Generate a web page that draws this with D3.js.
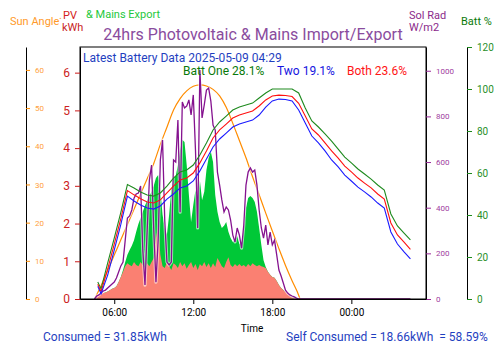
<!DOCTYPE html>
<html>
<head>
<meta charset="utf-8">
<script src="https://cdn.jsdelivr.net/npm/d3@7"></script>
<style>
    body { margin: 0; background: #fff; }
    svg { display: block; font-family: Roboto, sans-serif; }
</style>
</head>
<body>
<div id="chart"></div>
<script>
const WIDTH = 500;
const HEIGHT = 353;
const PLOT = { left: 80, right: 426, top: 47, bottom: 299 };

const DAY = '2025-05-08';
const LAST_READING = '2025-05-09 04:29';
const X_DOMAIN = ['2025-05-08 03:24', '2025-05-09 05:40'];

// 10 minute readings from 04:30 to 20:00
const DENSE_START = '2025-05-08 04:30';
const DENSE_STEP_MIN = 10;

// solar radiation W/m2
const solarRad = [
    0, 13, 18, 26, 35, 39, 48, 57, 66,
    74, 92, 118, 145, 162, 258,
    355, 364, 390, 442, 460, 464,
    495, 215, 61, 302, 521, 587,
    302, 74, 258, 609, 696, 346,
    162, 149, 162, 609, 600, 784,
    380, 863, 837, 845, 872, 806,
    894, 653, 311, 1003, 793, 850,
    915, 924, 867, 762, 740, 556,
    499, 434, 381, 403, 390, 346,
    280, 250, 311, 280, 223, 324,
    499, 556, 574, 556, 565, 499,
    390, 311, 267, 324, 237, 293,
    237, 258, 193, 127, 101, 70,
    39, 26, 18, 13, 9, 4,
    0
];

// PV generation kWh (top of green = total incl. export)
const pvTotal = [
    0, 0.08, 0.12, 0.15, 0.16, 0.17, 0.20, 0.23, 0.27,
    0.29, 0.34, 0.45, 0.58, 0.77, 0.98,
    1.17, 1.30, 1.41, 1.56, 1.78, 1.99,
    2.15, 2.31, 2.47, 2.62, 2.73, 2.84,
    3.00, 3.21, 3.29, 2.89, 2.23, 1.88,
    1.70, 2.23, 2.89, 3.21, 3.26, 3.55,
    3.95, 4.22, 4.16, 3.55, 2.76, 2.04,
    2.49, 2.89, 2.62, 3.15, 2.62, 2.84,
    3.42, 3.74, 3.90, 3.63, 2.76, 2.31,
    2.04, 1.88, 1.94, 2.04, 1.78, 1.62,
    1.51, 1.56, 1.67, 1.46, 1.51, 1.83,
    2.41, 2.68, 2.73, 2.68, 2.57, 2.31,
    1.88, 1.43, 1.03, 0.85, 0.72, 0.64,
    0.58, 0.56, 0.48, 0.37, 0.29, 0.24,
    0.19, 0.13, 0.08, 0.05, 0.03, 0,
    0
];

// PV self consumed kWh (salmon)
const pvUsed = [
    0, 0.08, 0.12, 0.15, 0.16, 0.17, 0.20, 0.23, 0.27,
    0.29, 0.34, 0.45, 0.58, 0.72, 0.87,
    0.95, 0.90, 0.87, 0.98, 0.90, 0.87,
    0.98, 0.90, 0.82, 0.95, 0.87, 0.98,
    1.09, 1.62, 1.94, 1.17, 0.87, 0.82,
    0.98, 0.87, 0.77, 0.95, 0.90, 0.82,
    0.98, 0.87, 0.95, 0.80, 0.90, 0.98,
    0.82, 0.93, 0.77, 0.93, 0.87, 0.98,
    0.85, 0.95, 0.82, 0.95, 0.85, 1.09,
    0.98, 0.87, 0.82, 0.98, 1.11, 0.90,
    0.85, 0.93, 0.87, 0.93, 0.87, 0.90,
    0.85, 0.93, 0.87, 0.95, 0.90, 0.87,
    0.90, 0.87, 0.85, 0.82, 0.72, 0.64,
    0.58, 0.56, 0.48, 0.37, 0.29, 0.24,
    0.19, 0.13, 0.08, 0.05, 0.03, 0,
    0
];

// sun elevation, degrees
const sunTimes = [
    '04:30', '05:00', '05:30', '06:00', '06:30', '07:00', '07:30', '08:00', '08:30',
    '09:00', '09:30', '10:00', '10:30', '11:00', '11:30', '12:00', '12:30', '13:00',
    '13:30', '14:00', '14:30', '15:00', '15:30', '16:00', '16:30', '17:00', '17:30',
    '18:00', '18:30', '19:00', '19:30', '20:00', '20:06'
];
const sunAngle = [
    0, 3.5, 7.5, 11.5, 15.5, 19.5, 23.5, 27.5, 31.5,
    35.5, 40.5, 45, 49.5, 52.5, 54.5, 55.7, 56.1, 55.8,
    54.9, 53.2, 50.2, 46.0, 41.5, 37.0, 32.0, 27.3, 22.5,
    17.8, 13.2, 8.8, 4.8, 1.0, 0
];

// battery state of charge, %
const battTimes = [
    '04:45', '05:00', '05:30', '06:00', '06:30', '07:00', '07:30', '08:00', '08:30',
    '09:00', '09:30', '10:00', '10:30', '11:00', '11:30', '12:00', '12:30', '13:00',
    '13:30', '14:00', '14:30', '15:00', '15:30', '16:00', '16:30', '17:00', '17:30',
    '18:00', '18:30', '19:00', '19:30', '20:00', '20:30', '21:00', '21:30', '22:00',
    '22:30', '23:00', '23:30', '00:00', '00:30', '01:00', '01:30', '02:00', '02:30',
    '03:00', '03:30', '04:00', '04:29'
];
const battOne = [
    8.1, 4.8, 17.1, 29.0, 41.2, 54.5, 52.9, 51.0, 49.5,
    49.0, 50.5, 53.8, 57.6, 60.5, 61.4, 63.8, 68.6, 74.3,
    80.5, 84.3, 87.1, 90.0, 91.4, 92.4, 93.3, 95.7, 98.1,
    100, 100, 100, 100, 98.1, 91.0, 84.8, 81.9, 78.6,
    75.2, 71.4, 67.6, 64.8, 61.9, 59.5, 57.1, 54.3, 51.9,
    40.5, 34.8, 31.4, 28.1
];
const battBoth = [
    7.0, 3.5, 14.2, 26.1, 38.3, 51.6, 49.6, 47.7, 46.2,
    45.7, 47.2, 50.5, 53.8, 56.7, 57.6, 60.0, 64.8, 70.5,
    76.7, 80.5, 83.3, 86.2, 87.6, 88.6, 89.5, 91.9, 94.8,
    96.7, 97.1, 96.9, 96.4, 93.2, 87.1, 81.0, 78.1, 74.3,
    70.5, 67.1, 63.3, 60.5, 57.6, 55.2, 52.9, 50.0, 47.6,
    36.2, 30.5, 27.1, 23.6
];
const battTwo = [
    6.0, 2.5, 11.4, 23.3, 35.5, 49.0, 46.7, 44.8, 43.3,
    42.8, 44.3, 47.6, 50.0, 52.9, 53.8, 56.2, 61.0, 66.7,
    72.4, 76.2, 79.0, 81.9, 83.3, 84.3, 85.2, 87.6, 91.4,
    94.3, 95.2, 95.0, 94.3, 90.0, 83.8, 77.6, 74.3, 70.5,
    66.2, 62.9, 59.0, 56.2, 53.3, 51.0, 48.6, 45.7, 43.3,
    31.9, 26.2, 22.4, 19.1
];

const sunTicks = [0, 10, 20, 30, 40, 50, 60];
const pvTicks = [0, 1, 2, 3, 4, 5, 6];
const radTicks = [0, 200, 400, 600, 800, 1000];
const battTicks = [0, 20, 40, 60, 80, 100, 120];

const parse = d3.timeParse('%Y-%m-%d %H:%M');

// "HH:MM" labels that roll over midnight
const toDates = labels => {
    let dayOffset = 0;
    let prev = null;
    return labels.map(label => {
        let d = d3.timeDay.offset(parse(`${DAY} ${label}`), dayOffset);
        if (prev && d < prev) {
            dayOffset++;
            d = d3.timeDay.offset(d, 1);
        }
        prev = d;
        return d;
    });
};

const denseStart = parse(DENSE_START);
const denseTimes = solarRad.map((v, i) => d3.timeMinute.offset(denseStart, i * DENSE_STEP_MIN));

const radPoints = solarRad.map((v, i) => ({ t: denseTimes[i], v }));
radPoints.push({ t: parse(LAST_READING), v: 0 });
const pvTotalPoints = pvTotal.map((v, i) => ({ t: denseTimes[i], v }));
const pvUsedPoints = pvUsed.map((v, i) => ({ t: denseTimes[i], v }));

const sunDates = toDates(sunTimes);
const sunPoints = sunAngle.map((v, i) => ({ t: sunDates[i], v }));

const battDates = toDates(battTimes);
const battSeries = [
    { values: battOne, color: '#1e8a1e' },
    { values: battBoth, color: '#ff1010' },
    { values: battTwo, color: '#1a1aff' }
];

const x = d3.scaleTime()
    .domain(X_DOMAIN.map(parse))
    .range([PLOT.left, PLOT.right]);
const ySun = d3.scaleLinear().domain([0, 66]).range([PLOT.bottom, PLOT.top]);
const yPv = d3.scaleLinear().domain([0, 6.68]).range([PLOT.bottom, PLOT.top]);
const yRad = d3.scaleLinear().domain([0, 1104]).range([PLOT.bottom, PLOT.top]);
const yBatt = d3.scaleLinear().domain([0, 120]).range([PLOT.bottom, PLOT.top]);

const svg = d3.select('#chart').append('svg')
    .attr('width', WIDTH)
    .attr('height', HEIGHT);

// areas
const area = d3.area()
    .x(d => x(d.t))
    .y0(yPv(0))
    .y1(d => yPv(d.v));

svg.append('path')
    .attr('d', area(pvTotalPoints))
    .attr('fill', '#00c837');

svg.append('path')
    .attr('d', area(pvUsedPoints))
    .attr('fill', '#fa8072');

// sun angle
svg.append('path')
    .attr('d', d3.line().x(d => x(d.t)).y(d => ySun(d.v)).curve(d3.curveMonotoneX)(sunPoints))
    .attr('fill', 'none')
    .attr('stroke', '#ff8c00')
    .attr('stroke-width', 1.2);

// solar radiation
const radLine = d3.line().x(d => x(d.t)).y(d => yRad(d.v));
svg.append('path')
    .attr('d', radLine(radPoints))
    .attr('fill', 'none')
    .attr('stroke', '#fff')
    .attr('stroke-opacity', 0.6)
    .attr('stroke-width', 3.2)
    .attr('stroke-linejoin', 'round');
svg.append('path')
    .attr('d', radLine(radPoints))
    .attr('fill', 'none')
    .attr('stroke', '#85128f')
    .attr('stroke-width', 1.3);

// batteries
battSeries.forEach(s => {
    const line = d3.line()
        .x((d, i) => x(battDates[i]))
        .y(d => yBatt(d));
    svg.append('path')
        .attr('d', line(s.values))
        .attr('fill', 'none')
        .attr('stroke', s.color)
        .attr('stroke-width', 1.1);
});

// plot frame
svg.append('rect')
    .attr('x', PLOT.left)
    .attr('y', PLOT.top)
    .attr('width', PLOT.right - PLOT.left)
    .attr('height', PLOT.bottom - PLOT.top)
    .attr('fill', 'none')
    .attr('stroke', '#000')
    .attr('stroke-width', 1);

const styleAxis = (g, tickColor, textColor, fontSize, domainColor) => {
    g.selectAll('.tick line').attr('stroke', tickColor);
    g.selectAll('.tick text')
        .attr('fill', textColor)
        .attr('font-size', fontSize)
        .attr('font-family', 'Roboto, sans-serif');
    g.select('.domain').attr('stroke', domainColor);
};

const intFormat = d3.format('d');

svg.append('g')
    .attr('transform', `translate(26, 0)`)
    .call(d3.axisRight(ySun).tickValues(sunTicks).tickFormat(intFormat)
        .tickSize(4).tickSizeOuter(0).tickPadding(5))
    .call(g => styleAxis(g, '#ff8c00', '#ffa040', 8, '#000'));

svg.append('g')
    .attr('transform', `translate(${PLOT.left}, 0)`)
    .call(d3.axisLeft(yPv).tickValues(pvTicks).tickFormat(intFormat)
        .tickSize(5).tickSizeOuter(0).tickPadding(5))
    .call(g => styleAxis(g, '#cc1a1a', '#cc2222', 12, '#000'));

svg.append('g')
    .attr('transform', `translate(${PLOT.right}, 0)`)
    .call(d3.axisRight(yRad).tickValues(radTicks).tickFormat(intFormat)
        .tickSize(5).tickSizeOuter(0).tickPadding(5))
    .call(g => styleAxis(g, '#9b2a9b', '#a040a0', 8, '#000'));

svg.append('g')
    .attr('transform', `translate(467, 0)`)
    .call(d3.axisRight(yBatt).tickValues(battTicks).tickFormat(intFormat)
        .tickSize(5).tickSizeOuter(0).tickPadding(5))
    .call(g => styleAxis(g, '#1e8a1e', '#2a902a', 10, '#000'));

svg.append('g')
    .attr('transform', `translate(0, ${PLOT.bottom})`)
    .call(d3.axisBottom(x).ticks(d3.timeHour.every(6)).tickFormat(d3.timeFormat('%H:%M'))
        .tickSize(5).tickSizeOuter(0).tickPadding(5))
    .call(g => styleAxis(g, '#000', '#000', 10, '#000'));

// texts
const label = (txt, px, py, color, size, anchor = 'start') => svg.append('text')
    .attr('x', px)
    .attr('y', py)
    .attr('fill', color)
    .attr('font-size', size)
    .attr('text-anchor', anchor)
    .style('white-space', 'pre')
    .text(txt);

label('24hrs Photovoltaic & Mains Import/Export', 253, 40, '#8a4c9e', 16, 'middle');
label('Sun Angle', 10, 25, '#ff9a2a', 11);
label('.', 59, 19, '#ff9a2a', 11);
label('PV', 63, 19, '#d42020', 11);
label('kWh', 62, 31, '#c81e1e', 11);
label('& Mains Export', 86, 18, '#1ec83c', 11);
label('Sol Rad', 409, 19, '#8b2a8b', 11);
label('W/m2', 409, 31, '#8b2a8b', 11);
label('Batt %', 461, 25, '#0a7a0a', 11);

label('Latest Battery Data 2025-05-09 04:29', 83, 62, '#1f3fbf', 12);
label('Batt One 28.1%', 183, 75, '#0a7a0a', 12);
label('Two 19.1%', 277, 75, '#1515e0', 12);
label('Both 23.6%', 347, 75, '#ff1515', 12);

label('Time', 252, 332, '#000', 10, 'middle');
label('Consumed = 31.85kWh', 43, 341, '#1f3fbf', 12);
label('Self Consumed = 18.66kWh  = 58.59%', 286, 341, '#1f3fbf', 12);
</script>
</body>
</html>
